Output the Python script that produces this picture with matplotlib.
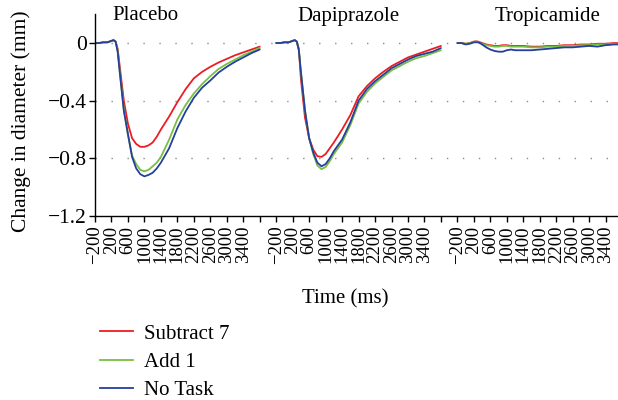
import matplotlib
matplotlib.use("Agg")
import matplotlib.pyplot as plt
from matplotlib.lines import Line2D
import numpy as np

plt.rcParams['font.family'] = ['Liberation Serif', 'DejaVu Serif']

# time samples (ms) shared by every panel
time_ms = [-200, -100, 0, 100, 200, 250, 300, 350, 400, 500, 600, 700, 800, 900,
           1000, 1100, 1200, 1300, 1400, 1600, 1800, 2000, 2200, 2400, 2600,
           2800, 3000, 3200, 3400, 3600, 3800]

panels = ['Placebo', 'Dapiprazole', 'Tropicamide']
series_names = ['Subtract 7', 'Add 1', 'No Task']
series_colors = ['#ec1c24', '#77bf42', '#25409a']

# Placebo
placebo_sub7 = [0, 0, 0.005, 0.005, 0.015, 0.02, 0.01, -0.04, -0.16, -0.40, -0.56, -0.66, -0.70,
                -0.72, -0.72, -0.71, -0.69, -0.65, -0.60, -0.51, -0.41, -0.32, -0.245, -0.20,
                -0.165, -0.135, -0.11, -0.085, -0.065, -0.045, -0.025]
placebo_add1 = [0, 0, 0.005, 0.005, 0.015, 0.02, 0.01, -0.05, -0.19, -0.46, -0.64, -0.78, -0.84,
                -0.88, -0.89, -0.88, -0.855, -0.83, -0.79, -0.67, -0.53, -0.43, -0.35, -0.285,
                -0.23, -0.18, -0.145, -0.115, -0.085, -0.06, -0.035]
placebo_notask = [0, 0, 0.005, 0.005, 0.015, 0.02, 0.01, -0.06, -0.20, -0.47, -0.63, -0.79, -0.87,
                  -0.91, -0.925, -0.915, -0.90, -0.87, -0.83, -0.73, -0.59, -0.475, -0.38, -0.31,
                  -0.26, -0.205, -0.165, -0.13, -0.10, -0.07, -0.045]

# Dapiprazole
dapi_sub7 = [0, 0, 0.005, 0.005, 0.015, 0.02, 0.01, -0.04, -0.25, -0.52, -0.66, -0.74, -0.785,
             -0.79, -0.77, -0.73, -0.69, -0.645, -0.60, -0.50, -0.37, -0.30, -0.245, -0.20,
             -0.16, -0.13, -0.10, -0.08, -0.06, -0.04, -0.02]
dapi_add1 = [0, 0, 0.005, 0.005, 0.015, 0.02, 0.01, -0.05, -0.20, -0.47, -0.66, -0.77, -0.85,
             -0.875, -0.86, -0.82, -0.77, -0.73, -0.69, -0.57, -0.42, -0.34, -0.28, -0.235,
             -0.19, -0.16, -0.13, -0.105, -0.09, -0.07, -0.05]
dapi_notask = [0, 0, 0.005, 0.005, 0.015, 0.02, 0.01, -0.05, -0.20, -0.47, -0.66, -0.76, -0.83,
               -0.855, -0.84, -0.80, -0.75, -0.71, -0.67, -0.55, -0.40, -0.32, -0.265, -0.22,
               -0.175, -0.145, -0.115, -0.09, -0.075, -0.06, -0.035]

# Tropicamide
tropi_sub7 = [0, 0, -0.005, 0, 0.01, 0.012, 0.01, 0.005, 0.0, -0.01, -0.015, -0.02, -0.02,
              -0.015, -0.015, -0.02, -0.02, -0.02, -0.02, -0.025, -0.025, -0.02, -0.02, -0.015,
              -0.015, -0.01, -0.01, -0.005, -0.005, 0.0, 0.0]
tropi_add1 = [0, 0, -0.005, 0, 0.008, 0.01, 0.008, 0.0, -0.005, -0.015, -0.02, -0.025, -0.025,
              -0.02, -0.02, -0.025, -0.025, -0.025, -0.025, -0.03, -0.03, -0.025, -0.025, -0.02,
              -0.02, -0.015, -0.015, -0.01, -0.01, -0.005, -0.005]
tropi_notask = [0, 0, -0.01, -0.005, 0.005, 0.005, 0.005, 0.0, -0.01, -0.03, -0.045, -0.055, -0.06,
                -0.06, -0.05, -0.045, -0.05, -0.05, -0.05, -0.05, -0.045, -0.04, -0.035, -0.03,
                -0.03, -0.025, -0.02, -0.025, -0.015, -0.01, -0.01]

panel_data = [
    [placebo_sub7, placebo_add1, placebo_notask],
    [dapi_sub7, dapi_add1, dapi_notask],
    [tropi_sub7, tropi_add1, tropi_notask],
]

tick_times = [-200, 200, 600, 1000, 1400, 1800, 2200, 2600, 3000, 3400, 3800]
panel_span = 4400  # each panel occupies 11 tick intervals on the shared axis

fig = plt.figure(figsize=(6.18, 4.0), dpi=100)
ax = fig.add_axes([95 / 618, 1 - 216 / 400, 1 - 95 / 618, (216 - 14.2) / 400])

for p, data in enumerate(panel_data):
    x = np.array(time_ms) + p * panel_span
    for vals, col in zip(data, series_colors):
        ax.plot(x, vals, color=col, linewidth=1.3, solid_capstyle='round')

# x ticks: every 400 ms, the last tick in each panel has no label
tick_pos, tick_lab = [], []
for p in range(3):
    for k, t in enumerate(tick_times):
        tick_pos.append(t + p * panel_span)
        tick_lab.append('' if k == len(tick_times) - 1 else str(t).replace('-', '\u2212'))
ax.set_xticks(tick_pos)
ax.set_xticklabels(tick_lab, rotation=90, fontsize=13.5)
ax.set_xlim(-200, -200 + 31.75 * 400)

ax.set_ylim(-1.2, 0.2)
ax.set_yticks([0, -0.4, -0.8, -1.2])
ax.set_yticklabels(['0', '\u22120.4', '\u22120.8', '\u22121.2'], fontsize=15.5)
for yv in [0, -0.4, -0.8]:
    ax.axhline(yv, color='#8c8c8c', linewidth=1.0, linestyle=(0, (1, 10.5)), zorder=0)

ax.tick_params(axis='both', direction='out', length=4, width=1)
ax.tick_params(axis='y', pad=2)
ax.tick_params(axis='x', pad=3)
for s in ['top', 'right']:
    ax.spines[s].set_visible(False)
for s in ['left', 'bottom']:
    ax.spines[s].set_linewidth(1)

ax.set_ylabel('Change in diameter (mm)', fontsize=15.5, va='center')
ax.yaxis.set_label_coords(-0.142, 0.47)
fig.text(345 / 618, 1 - 299 / 400, 'Time (ms)', ha='center', va='center', fontsize=15)

title_x = [145, 348, 548]
for name, tx in zip(panels, title_x):
    fig.text(tx / 618, 1 - 16 / 400, name, ha='center', va='center', fontsize=15)

handles = [Line2D([], [], color=c, linewidth=1.3) for c in series_colors]
fig.legend(handles, series_names, loc='upper left', bbox_to_anchor=(100 / 618, 1 - 324 / 400),
           frameon=False, fontsize=15, handlelength=1.6, handletextpad=0.5,
           labelspacing=0.42, borderpad=0, borderaxespad=0)

fig.savefig('out.png', dpi=100)
